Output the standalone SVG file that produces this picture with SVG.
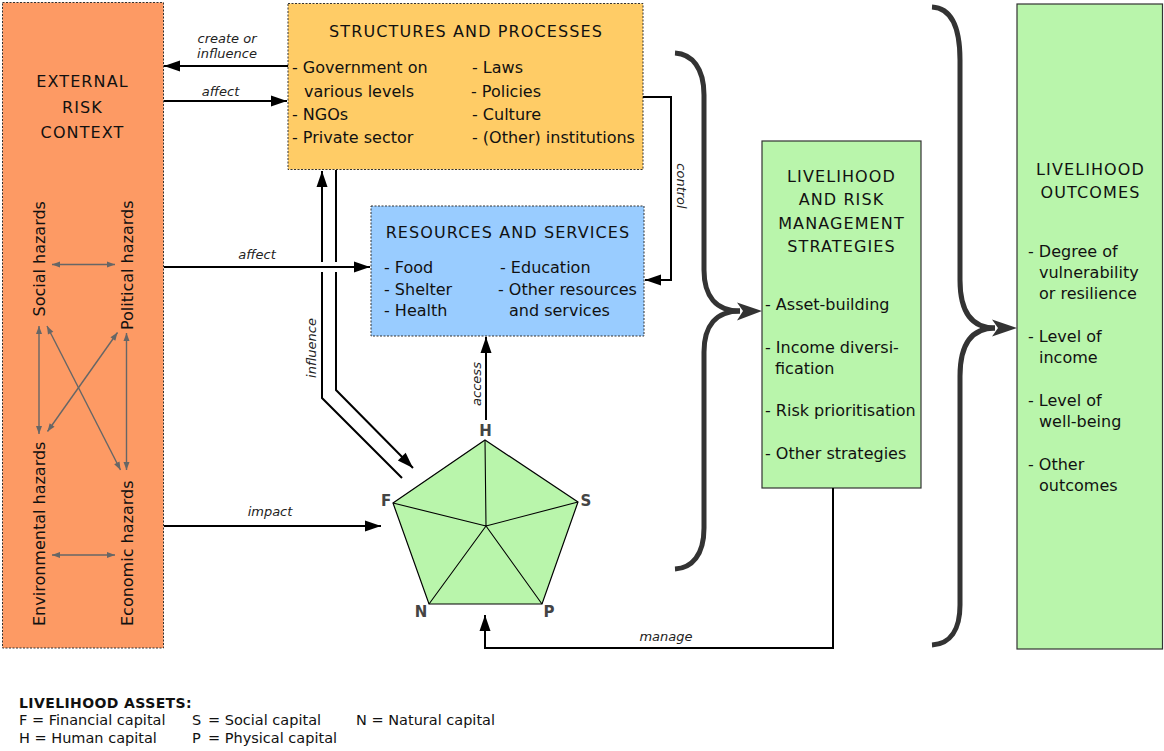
<svg xmlns="http://www.w3.org/2000/svg" width="1164" height="751" viewBox="0 0 1164 751">
<style>
text{font-family:"DejaVu Sans","Liberation Sans",sans-serif;fill:#111}
.t{font-size:16px;letter-spacing:1.1px;text-anchor:middle}
.i{font-size:16px}
.h{font-size:16px}
.lbl{font-size:13px;font-style:italic;fill:#222}
.v{font-size:15px;font-weight:bold;fill:#444;text-anchor:middle}
.leg{font-size:14.5px}
.box{stroke:#333;stroke-width:1;stroke-dasharray:2,1.5}
.sbox{stroke:#333;stroke-width:1.2}
.con{fill:none;stroke:#000;stroke-width:2}
.hz{fill:none;stroke:#666;stroke-width:1.4}
.br{fill:none;stroke:#333;stroke-width:5}
</style>
<defs>
<marker id="ah" markerUnits="userSpaceOnUse" markerWidth="17" markerHeight="12" refX="16" refY="5.5" orient="auto-start-reverse" overflow="visible"><path d="M0,0 L16,5.5 L0,11 Z" fill="#000"/></marker>
<marker id="gh" markerUnits="userSpaceOnUse" markerWidth="9" markerHeight="7" refX="8" refY="3" orient="auto-start-reverse" overflow="visible"><path d="M0,0 L8,3 L0,6 Z" fill="#666"/></marker>
</defs>
<rect width="1164" height="751" fill="#fff"/>

<g id="external">
<rect class="box" x="2.5" y="2.5" width="161" height="645.5" fill="#fd9a64"/>
<text class="t" x="82.5" y="87">EXTERNAL</text>
<text class="t" x="82.5" y="113">RISK</text>
<text class="t" x="82.5" y="138">CONTEXT</text>
<text class="h" transform="translate(45,316.5) rotate(-90)">Social hazards</text>
<text class="h" transform="translate(133,330) rotate(-90)">Political hazards</text>
<text class="h" transform="translate(45,626) rotate(-90)">Environmental hazards</text>
<text class="h" transform="translate(133,626) rotate(-90)">Economic hazards</text>
<g id="hazard-links">
<line class="hz" x1="52" y1="264.5" x2="115" y2="264.5" marker-start="url(#gh)" marker-end="url(#gh)"/>
<line class="hz" x1="52" y1="555" x2="115" y2="555" marker-start="url(#gh)" marker-end="url(#gh)"/>
<line class="hz" x1="39" y1="326" x2="39" y2="434" marker-start="url(#gh)" marker-end="url(#gh)"/>
<line class="hz" x1="126.5" y1="333" x2="126.5" y2="470" marker-start="url(#gh)" marker-end="url(#gh)"/>
<line class="hz" x1="47" y1="326" x2="120.5" y2="470" marker-start="url(#gh)" marker-end="url(#gh)"/>
<line class="hz" x1="117.5" y1="332.5" x2="47.5" y2="431.5" marker-start="url(#gh)" marker-end="url(#gh)"/>
</g>
</g>

<g id="structures">
<rect class="box" x="288" y="3.5" width="355" height="166" fill="#ffcc66"/>
<text class="t" x="466" y="37">STRUCTURES AND PROCESSES</text>
<text class="i" x="292" y="73">- Government on</text>
<text class="i" x="304" y="97">various levels</text>
<text class="i" x="292" y="120">- NGOs</text>
<text class="i" x="292" y="143">- Private sector</text>
<text class="i" x="472" y="73">- Laws</text>
<text class="i" x="471" y="97">- Policies</text>
<text class="i" x="472" y="120">- Culture</text>
<text class="i" x="472" y="143">- (Other) institutions</text>
</g>

<g id="resources">
<rect class="box" x="371" y="206" width="273" height="130" fill="#99ccff"/>
<text class="t" x="508" y="238">RESOURCES AND SERVICES</text>
<text class="i" x="384" y="273">- Food</text>
<text class="i" x="384" y="295">- Shelter</text>
<text class="i" x="384" y="316">- Health</text>
<text class="i" x="500" y="273">- Education</text>
<text class="i" x="498" y="295">- Other resources</text>
<text class="i" x="509" y="316">and services</text>
</g>

<g id="assets">
<polygon points="485,440 578,502 542,604 429,604 393,503" fill="#b9f5ab" stroke="#000" stroke-width="1.2"/>
<path d="M486,526 L485,440 M486,526 L578,502 M486,526 L542,604 M486,526 L429,604 M486,526 L393,503" stroke="#000" stroke-width="1.1" fill="none"/>
<text class="v" x="485.5" y="436">H</text>
<text class="v" x="586" y="506">S</text>
<text class="v" x="549" y="617">P</text>
<text class="v" x="421" y="617">N</text>
<text class="v" x="386" y="506">F</text>
</g>

<g id="strategies">
<rect class="sbox" x="762" y="141" width="159" height="347" fill="#b9f5ab"/>
<text class="t" x="841.5" y="182">LIVELIHOOD</text>
<text class="t" x="841.5" y="205">AND RISK</text>
<text class="t" x="841.5" y="228.5">MANAGEMENT</text>
<text class="t" x="841.5" y="251.5">STRATEGIES</text>
<text class="i" x="765" y="310">- Asset-building</text>
<text class="i" x="765" y="353">- Income diversi-</text>
<text class="i" x="775" y="374">fication</text>
<text class="i" x="765" y="416">- Risk prioritisation</text>
<text class="i" x="765" y="459">- Other strategies</text>
</g>

<g id="outcomes">
<rect class="sbox" x="1017" y="4" width="145.5" height="645" fill="#b9f5ab"/>
<text class="t" x="1090.5" y="175">LIVELIHOOD</text>
<text class="t" x="1090.5" y="198">OUTCOMES</text>
<text class="i" x="1028" y="257">- Degree of</text>
<text class="i" x="1039" y="278">vulnerability</text>
<text class="i" x="1039" y="299">or resilience</text>
<text class="i" x="1028" y="342">- Level of</text>
<text class="i" x="1039" y="363">income</text>
<text class="i" x="1028" y="406">- Level of</text>
<text class="i" x="1039" y="427">well-being</text>
<text class="i" x="1028" y="470">- Other</text>
<text class="i" x="1039" y="491">outcomes</text>
</g>

<g id="connectors">
<path class="con" d="M288,66 L164,66" marker-end="url(#ah)"/>
<path class="con" d="M164,101 L287,101" marker-end="url(#ah)"/>
<path class="con" d="M164,267 L370,267" marker-end="url(#ah)"/>
<path class="con" d="M164,526 L381,526" marker-end="url(#ah)"/>
<path class="con" d="M402,478 L322,398 L322,272"/>
<path class="con" d="M322,262 L322,171" marker-end="url(#ah)"/>
<path class="con" d="M336,170 L336,262"/>
<path class="con" d="M336,272 L336,390 L413,468" marker-end="url(#ah)"/>
<path class="con" d="M643,97 L671,97 L671,280 L645,280" marker-end="url(#ah)"/>
<path class="con" d="M486,420 L486,337" marker-end="url(#ah)"/>
<path class="con" d="M833,488 L833,648 L485,648 L485,615" marker-end="url(#ah)"/>
<text class="lbl" x="227" y="43" text-anchor="middle">create or</text>
<text class="lbl" x="227" y="57.5" text-anchor="middle">influence</text>
<text class="lbl" x="220.5" y="96" text-anchor="middle">affect</text>
<text class="lbl" x="257" y="259" text-anchor="middle">affect</text>
<text class="lbl" x="270" y="516" text-anchor="middle">impact</text>
<text class="lbl" x="666" y="641" text-anchor="middle">manage</text>
<text class="lbl" text-anchor="middle" transform="translate(316,348) rotate(-90)">influence</text>
<text class="lbl" text-anchor="middle" transform="translate(481,384) rotate(-90)">access</text>
<text class="lbl" text-anchor="middle" transform="translate(677,186) rotate(90)">control</text>
</g>

<g id="braces">
<path class="br" d="M675,53 C692,54 704,68 704,95 L704,270 C704,296 716,311 740,311"/>
<path class="br" d="M740,311 C716,311 704,326 704,352 L704,528 C704,555 692,568 675,569"/>
<path d="M762,311 L737,302.5 L743,311 L737,320.5 Z" fill="#333"/>
<path class="br" d="M932,7 C950,8 960,25 960,60 L960,280 C960,310 970,328 995,328"/>
<path class="br" d="M995,328 C970,328 960,346 960,376 L960,605 C960,630 950,644 932,645"/>
<path d="M1017,328 L992,319.5 L998,328 L992,336.5 Z" fill="#333"/>
</g>

<g id="legend">
<text x="19" y="708" style="font-size:14px;font-weight:bold;letter-spacing:0.4px">LIVELIHOOD ASSETS:</text>
<text class="leg" x="19" y="725">F = Financial capital</text>
<text class="leg" x="192" y="725">S</text>
<text class="leg" x="208" y="725">= Social capital</text>
<text class="leg" x="356" y="725">N = Natural capital</text>
<text class="leg" x="19" y="743">H = Human capital</text>
<text class="leg" x="192" y="743">P</text>
<text class="leg" x="208" y="743">= Physical capital</text>
</g>
</svg>
